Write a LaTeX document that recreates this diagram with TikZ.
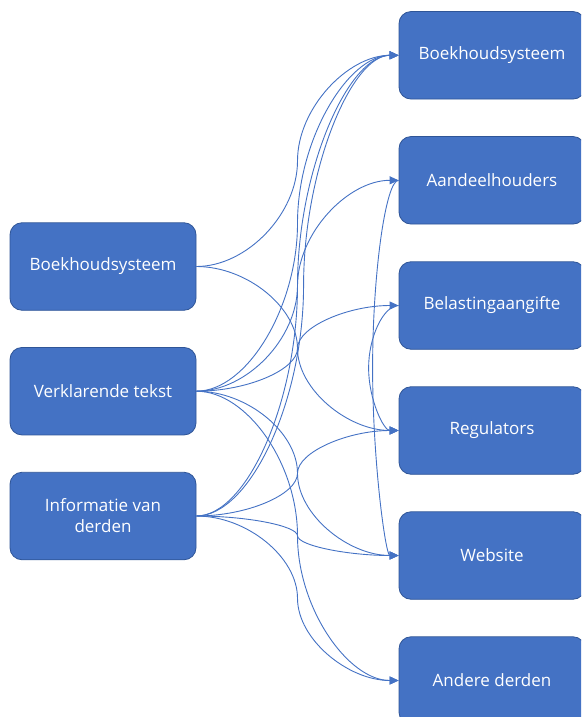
\documentclass[tikz,border=0pt]{standalone}
\usepackage{fontspec}
\setmainfont{Open Sans}
\usetikzlibrary{calc,arrows.meta}
\definecolor{nodeblue}{HTML}{4472C4}
\definecolor{nodeedge}{HTML}{2F5597}
\definecolor{linkblue}{HTML}{4472C4}
\begin{document}
\begin{tikzpicture}[x=1pt,y=-1pt,
  box/.style={draw=nodeedge, line width=0.8pt, fill=nodeblue, rounded corners=12pt,
    minimum width=186pt, minimum height=87.5pt, text=white, align=center, inner sep=0pt,
    font=\fontsize{17}{21}\selectfont},
  conn/.style={draw=linkblue, line width=0.9pt, -{Triangle[length=9pt,width=8pt]},
    to path={let \p1=(\tikztostart), \p2=(\tikztotarget) in
      .. controls ({\x1+0.5*#1*(\x2-\x1)},\y1) and ({\x1+#1*(\x2-\x1)},{0.75*\y1+0.25*\y2})
      .. ({\x1+#1*(\x2-\x1)},{0.5*\y1+0.5*\y2})
      .. controls ({\x1+#1*(\x2-\x1)},{0.25*\y1+0.75*\y2}) and ({\x2-0.5*(1-#1)*(\x2-\x1)},\y2)
      .. (\tikztotarget)}},
  conn/.default=0.5,
  brack/.style={draw=linkblue, line width=0.9pt, -{Triangle[length=9pt,width=8pt]},
    to path={let \p1=(\tikztostart), \p2=(\tikztotarget) in
      .. controls ({\x1+0.5*#1},\y1) and ({\x1+#1},{0.75*\y1+0.25*\y2})
      .. ({\x1+#1},{0.5*\y1+0.5*\y2})
      .. controls ({\x1+#1},{0.25*\y1+0.75*\y2}) and ({\x2+0.5*#1},\y2)
      .. (\tikztotarget)}}
]
\useasboundingbox (0,0) rectangle (581,717);
\begin{scope}
\clip (0,0) rectangle (581,717);
\node[box] (L1) at (103,266.5) {Boekhoudsysteem};
\node[box] (L2) at (103,391.2) {Verklarende tekst};
\node[box] (L3) at (103,516) {Informatie van\\derden};
\node[box] (R1) at (492,55.3) {Boekhoudsysteem};
\node[box] (R2) at (492,180.3) {Aandeelhouders};
\node[box] (R3) at (492,305.5) {Belastingaangifte};
\node[box] (R4) at (492,430.5) {Regulators};
\node[box] (R5) at (492,555.5) {Website};
\node[box] (R6) at (492,680.5) {Andere derden};
\end{scope}
\draw[conn] (L1.east) to (R1.west);
\draw[conn] (L1.east) to (R4.west);
\draw[conn] (L2.east) to (R1.west);
\draw[conn] (L2.east) to (R2.west);
\draw[conn] (L2.east) to (R3.west);
\draw[conn] (L2.east) to (R5.west);
\draw[conn] (L2.east) to (R6.west);
\draw[conn] (L3.east) to (R1.west);
\draw[conn=0.53] (L3.east) to (R1.west);
\draw[conn] (L3.east) to (R4.west);
\draw[conn] (L3.east) to (R5.west);
\draw[conn] (L3.east) to (R6.west);
\draw[brack=-26pt] (R2.west) to (R5.west);
\draw[brack=-30pt] (R3.west) to (R4.west);
\end{tikzpicture}
\end{document}
